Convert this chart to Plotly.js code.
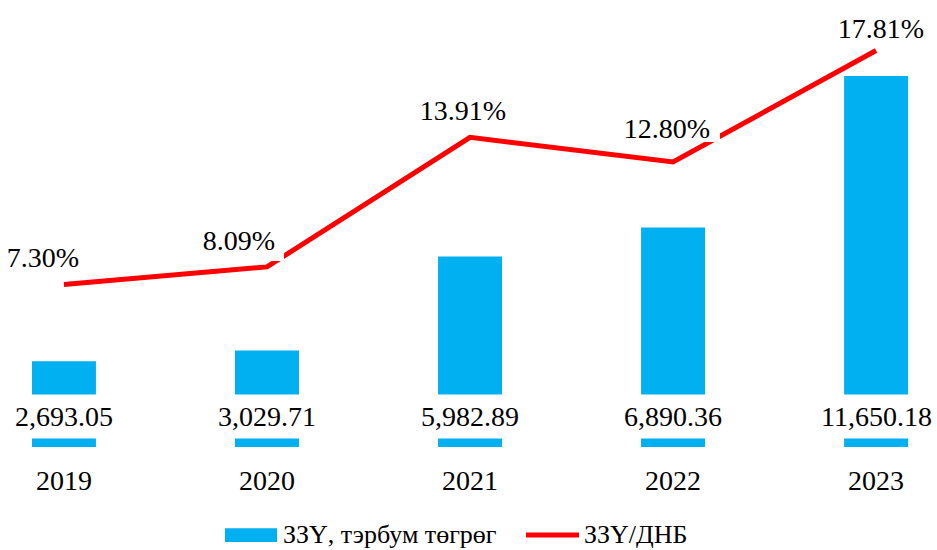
<!DOCTYPE html>
<html>
<head>
<meta charset="utf-8">
<script src="https://cdn.plot.ly/plotly-3.0.1.min.js"></script>
<style>html,body{margin:0;padding:0;background:#fff;}#chart{width:937px;height:550px;}</style>
</head>
<body>
<div id="chart"></div>
<script>
const years = [2019, 2020, 2021, 2022, 2023];
const yearLabels = ["2019", "2020", "2021", "2022", "2023"];
const fdiValues = [2693.05, 3029.71, 5982.89, 6890.36, 11650.18];
const fdiLabels = ["2,693.05", "3,029.71", "5,982.89", "6,890.36", "11,650.18"];
const ratioValues = [7.30, 8.09, 13.91, 12.80, 17.81];
const ratioLabels = ["7.30%", "8.09%", "13.91%", "12.80%", "17.81%"];
const seriesNames = ["ЗЗҮ, тэрбум төгрөг", "ЗЗҮ/ДНБ"];

const FONT = "Liberation Serif";
const BLUE = "#00B0F0";
const RED = "#FF0000";

// label placement styles (pixels) for line labels
const lineLabelShift = [[-21, 27], [-28, 27], [-7, 27], [-6, 34], [5, 23]];
const lineLabelBox = [[80, 34], [90, 42], [90, 34], [106, 28], [90, 32]];

const traces = [
  {
    type: "bar", x: years, y: fdiValues, name: seriesNames[0],
    marker: {color: BLUE}, width: 0.315, yaxis: "y", showlegend: false,
    hoverinfo: "skip"
  },
  {
    type: "scatter", mode: "lines", x: years, y: ratioValues, name: seriesNames[1],
    line: {color: RED, width: 5}, yaxis: "y2", showlegend: false,
    hoverinfo: "skip"
  }
];

const annotations = [];
years.forEach((yr, i) => {
  annotations.push({
    x: yr, y: 0, xref: "x", yref: "y", yshift: 31, yanchor: "middle", xanchor: "center",
    text: fdiLabels[i], showarrow: false, bgcolor: "#ffffff", borderpad: 6,
    font: {family: FONT, size: 28, color: "#000"}
  });
  annotations.push({
    x: yr, y: ratioValues[i], xref: "x", yref: "y2",
    xshift: lineLabelShift[i][0], yshift: lineLabelShift[i][1],
    xanchor: "center", yanchor: "middle",
    width: lineLabelBox[i][0], height: lineLabelBox[i][1],
    text: ratioLabels[i], showarrow: false, bgcolor: "#ffffff", borderpad: 0, borderwidth: 0,
    font: {family: FONT, size: 28, color: "#000"}
  });
});
// custom legend texts
const legY = -0.206;
annotations.push({x: 281/937, y: legY, xref: "paper", yref: "paper", xanchor: "left", yanchor: "middle",
  text: seriesNames[0], showarrow: false, font: {family: FONT, size: 26, color: "#000"}});
annotations.push({x: 582/937, y: legY, xref: "paper", yref: "paper", xanchor: "left", yanchor: "middle",
  text: seriesNames[1], showarrow: false, font: {family: FONT, size: 26, color: "#000"}});

const shapes = [
  {type: "rect", xref: "paper", yref: "paper", x0: 225/937, x1: 277/937, y0: -0.190, y1: -0.2225,
   fillcolor: BLUE, line: {width: 0}},
  {type: "line", xref: "paper", yref: "paper", x0: 526/937, x1: 579/937, y0: legY, y1: legY,
   line: {color: RED, width: 5}}
];

const layout = {
  width: 937, height: 550,
  margin: {l: 0, r: 0, t: 20, b: 103},
  paper_bgcolor: "#ffffff", plot_bgcolor: "#ffffff",
  font: {family: FONT, size: 28, color: "#000"},
  showlegend: false,
  xaxis: {
    range: [2018.685, 2023.30], tickvals: years, ticktext: yearLabels,
    showgrid: false, zeroline: false, showline: false, ticks: "",
    ticklabelstandoff: 14, tickfont: {family: FONT, size: 28, color: "#000"}
  },
  yaxis: {range: [0, 13406], visible: false, showgrid: false, zeroline: false},
  yaxis2: {range: [0, 19.18], overlaying: "y", side: "right", visible: false, showgrid: false, zeroline: false},
  annotations: annotations,
  shapes: shapes
};

Plotly.newPlot("chart", traces, layout, {staticPlot: true, displayModeBar: false});
</script>
</body>
</html>
